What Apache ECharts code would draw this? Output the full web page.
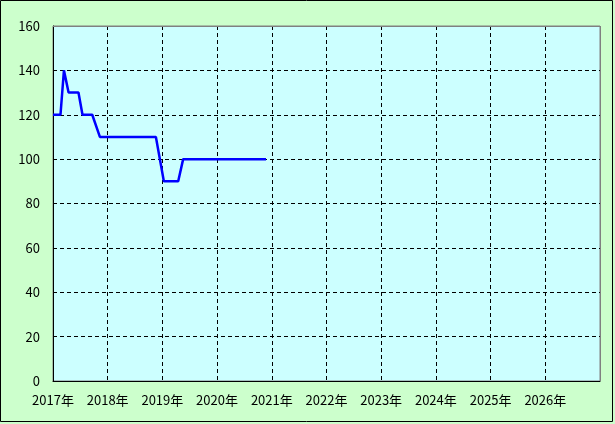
<!DOCTYPE html>
<html><head><meta charset="utf-8">
<script src="https://cdn.jsdelivr.net/npm/echarts@6/dist/echarts.min.js"></script>
<style>html,body{margin:0;padding:0;background:#ccffcc;}#c{width:615px;height:424px;}</style>
</head><body><div id="c"></div>
<script>
const dates = ['2017-01-01','2017-02-20','2017-03-15','2017-04-15','2017-06-20','2017-07-17','2017-09-20','2017-11-10','2018-11-19','2019-01-11','2019-04-17','2019-05-20','2020-11-23'];
const values = [120,120,140,130,130,120,120,110,110,90,90,100,100];
const yTicks = [0,20,40,60,80,100,120,140,160];

const chart = echarts.init(document.getElementById('c'), null, {renderer:'canvas'});
const font = "'Noto Sans CJK JP', 'DejaVu Sans', sans-serif";
chart.setOption({
  backgroundColor: '#ccffcc',
  animation: false,
  grid: {left:53, top:26, right:15, bottom:43, show:true, backgroundColor:'#ccffff', borderColor:'#808080', borderWidth:1},
  xAxis: {
    type:'time', min:'2017-01-01', max:'2027-01-01',
    minInterval: 365*24*3600*1000, maxInterval: 366*24*3600*1000,
    axisLine:{show:true, lineStyle:{color:'#000', width:1}},
    axisTick:{show:false},
    axisLabel:{formatter:'{yyyy}年', color:'#000', fontFamily:font, fontSize:13, margin:13, showMaxLabel:false, showMinLabel:true, hideOverlap:false},
    splitLine:{show:true, lineStyle:{color:'#000', type:[4,3], width:1}}
  },
  yAxis: {
    type:'value', min:yTicks[0], max:yTicks[yTicks.length-1], interval:20,
    axisLine:{show:true, lineStyle:{color:'#000', width:1}},
    axisTick:{show:false},
    axisLabel:{color:'#000', fontFamily:font, fontSize:13, margin:13},
    splitLine:{show:true, lineStyle:{color:'#000', type:[4,3], width:1}}
  },
  graphic: [
    {type:'rect', shape:{x:0.5,y:0.5,width:612,height:421}, style:{fill:null, stroke:'#000', lineWidth:1}, z:100},
    {type:'line', shape:{x1:53,y1:26.5,x2:600.5,y2:26.5}, style:{stroke:'#808080', lineWidth:1}, z:100},
    {type:'line', shape:{x1:600.5,y1:26,x2:600.5,y2:381}, style:{stroke:'#808080', lineWidth:1}, z:100}
  ],
  series: [{
    type:'line', data: dates.map((d,i)=>[d, values[i]]),
    showSymbol:false, lineStyle:{color:'#0000ff', width:2.5}, itemStyle:{color:'#0000ff'}
  }]
});
</script></body></html>
